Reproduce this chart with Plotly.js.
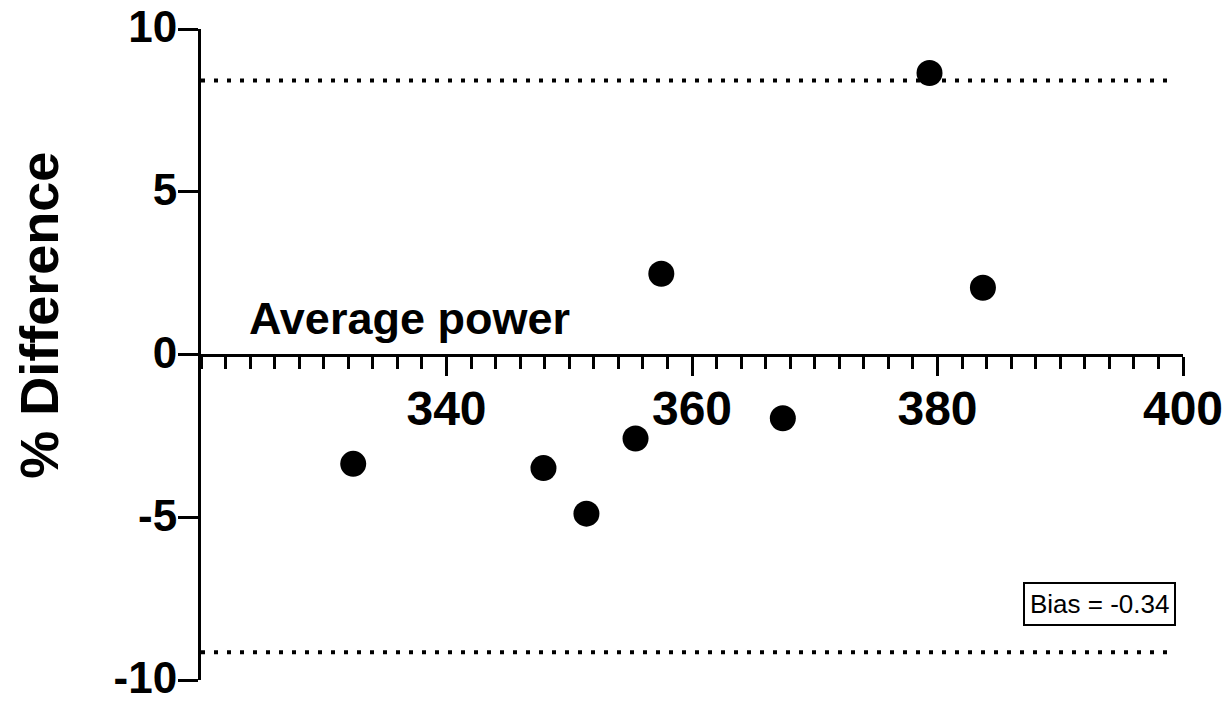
<!DOCTYPE html>
<html>
<head>
<meta charset="utf-8">
<script src="https://cdn.plot.ly/plotly-3.0.1.min.js"></script>
<style>html,body{margin:0;padding:0;background:#fff;}#chart{width:1227px;height:704px;}</style>
</head>
<body>
<div id="chart"></div>
<script>
// Data
const averagePower = [332.4, 347.9, 351.4, 355.4, 357.5, 367.4, 379.35, 383.7];
const pctDifference = [-3.36, -3.49, -4.89, -2.58, 2.48, -1.96, 8.65, 2.05];
const bias = -0.34;
const upperLimit = 8.42;
const lowerLimit = -9.15;
const limitSpan = [320, 399.4];
const xTickVals = [340, 360, 380, 400];
const xTickText = ["340", "360", "380", "400"];
const yTickVals = [-10, -5, 0, 5, 10];
const yTickText = ["-10", "-5", "0", "5", "10"];

const FONT = "Liberation Sans, Arial, Helvetica, sans-serif";

const traces = [
  {
    x: limitSpan, y: [upperLimit, upperLimit], mode: "lines", type: "scatter",
    line: {color: "#000", width: 4, dash: "4px,9px"}, hoverinfo: "skip", showlegend: false
  },
  {
    x: limitSpan, y: [lowerLimit, lowerLimit], mode: "lines", type: "scatter",
    line: {color: "#000", width: 4, dash: "4px,9px"}, hoverinfo: "skip", showlegend: false
  },
  {
    x: averagePower, y: pctDifference, mode: "markers", type: "scatter",
    marker: {color: "#000", size: 26, line: {width: 0}}, showlegend: false
  }
];

const layout = {
  width: 1227, height: 704,
  margin: {l: 201, r: 44, t: 29, b: 24},
  paper_bgcolor: "#fff", plot_bgcolor: "#fff",
  showlegend: false,
  font: {family: FONT, color: "#000"},
  xaxis: {
    range: [320, 400], anchor: "free", position: 0.5,
    showline: true, linewidth: 3, linecolor: "#000",
    showgrid: false, zeroline: false,
    tickmode: "array", tickvals: xTickVals, ticktext: xTickText,
    ticks: "outside", ticklen: 19, tickwidth: 3, tickcolor: "#000",
    tickfont: {family: FONT, size: 48, weight: 700, color: "#000"},
    ticklabelstandoff: -8, ticklabeloverflow: "allow",
    minor: {tickmode: "linear", tick0: 320, dtick: 2, ticks: "outside", ticklen: 12, tickwidth: 3, tickcolor: "#000", showgrid: false},
    automargin: false, fixedrange: true
  },
  yaxis: {
    range: [-10, 10],
    showline: true, linewidth: 3, linecolor: "#000",
    showgrid: false, zeroline: false,
    tickmode: "array", tickvals: yTickVals, ticktext: yTickText,
    ticks: "outside", ticklen: 20, tickwidth: 3, tickcolor: "#000",
    tickfont: {family: FONT, size: 44, weight: 700, color: "#000"},
    ticklabelstandoff: -8, ticklabelshift: -2, ticklabeloverflow: "allow",
    automargin: false, fixedrange: true
  },
  annotations: [
    {
      text: "Average power", xref: "x", yref: "y", x: 337, y: 1.1,
      xanchor: "center", yanchor: "middle",
      showarrow: false, font: {family: FONT, size: 45, weight: 700, color: "#000"}
    },
    {
      text: "% Difference", xref: "paper", yref: "paper", x: -0.165, y: 0.561,
      xanchor: "center", yanchor: "middle",
      textangle: -90, showarrow: false,
      font: {family: FONT, size: 54, weight: 700, color: "#000"}
    },
    {
      text: "Bias = " + bias.toFixed(2), xref: "x", yref: "y", x: 393.2, y: -7.65,
      xanchor: "center", yanchor: "middle",
      showarrow: false, bordercolor: "#000", borderwidth: 2, borderpad: 5, bgcolor: "#fff",
      font: {family: FONT, size: 26, color: "#000"}
    }
  ]
};

Plotly.newPlot("chart", traces, layout, {displayModeBar: false, staticPlot: true});
</script>
</body>
</html>
